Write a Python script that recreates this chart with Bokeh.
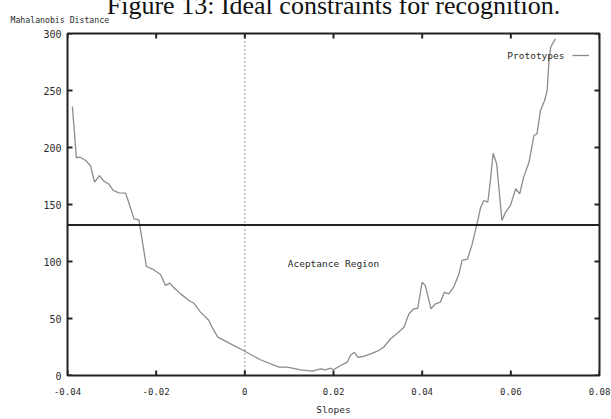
from bokeh.plotting import figure
from bokeh.models import (Label, Span, LinearAxis, FixedTicker, Legend, LegendItem,
                          Range1d, Title)
from bokeh.embed import file_html
from bokeh.resources import INLINE

# Mahalanobis distance of the prototypes as a function of slope
slopes = [-0.0389, -0.0380, -0.0371, -0.0359, -0.0348, -0.0339, -0.0328, -0.0318,
          -0.0307, -0.0297, -0.0284, -0.0269, -0.0262, -0.0250, -0.0239, -0.0235,
          -0.0222, -0.0209, -0.0190, -0.0179, -0.0169, -0.0160, -0.0145, -0.0126,
          -0.0115, -0.0100, -0.0081, -0.0074, -0.0061, -0.0032, 0.0000, 0.0035,
          0.0077, 0.0096, 0.0126, 0.0152, 0.0171, 0.0182, 0.0193, 0.0200,
          0.0216, 0.0231, 0.0238, 0.0247, 0.0255, 0.0268, 0.0284, 0.0299,
          0.0313, 0.0329, 0.0344, 0.0359, 0.0370, 0.0381, 0.0390, 0.0400,
          0.0407, 0.0420, 0.0430, 0.0441, 0.0450, 0.0460, 0.0471, 0.0483,
          0.0490, 0.0502, 0.0513, 0.0520, 0.0526, 0.0532, 0.0539, 0.0548,
          0.0554, 0.0560, 0.0568, 0.0580, 0.0588, 0.0599, 0.0611, 0.0620,
          0.0629, 0.0641, 0.0652, 0.0659, 0.0667, 0.0676, 0.0682, 0.0686,
          0.0690, 0.0696, 0.0701]
distance = [236, 191, 191.5, 188.6, 184, 169.6, 175.4, 170.5,
            168, 162.3, 160.2, 160, 152, 137.4, 136.6, 127,
            95.6, 93.6, 88.6, 79, 81, 77, 71.6, 65.8,
            63.4, 55.6, 48.2, 42.4, 33.6, 27.8, 21.3, 13.8,
            7.3, 7.3, 5, 3.8, 5.8, 5, 6.4, 5,
            8.8, 11.7, 17.5, 20.5, 16, 16.7, 19, 21.3,
            24.8, 32.2, 37, 42.4, 54, 58.5, 59, 81.9,
            79, 58.5, 62.9, 64.3, 73, 71.6, 77.5, 89,
            101, 102, 115.5, 127, 137, 147.6, 153.5, 152,
            171, 195, 185.7, 136, 143.3, 149, 163.8, 159.3,
            174, 187, 210.5, 212, 232.5, 241, 250, 276,
            288, 292.4, 295.3]

threshold = 132  # upper bound of the acceptance region

x_ticks = [-0.04, -0.02, 0, 0.02, 0.04, 0.06, 0.08]
x_tick_labels = ["-0.04", "-0.02", "0", "0.02", "0.04", "0.06", "0.08"]
y_ticks = [0, 50, 100, 150, 200, 250, 300]
y_tick_labels = ["0", "50", "100", "150", "200", "250", "300"]

MONO = "DejaVu Sans Mono"
INK = "#2a2a2a"
FRAME = "#222222"

FRAME_W, FRAME_H = 532, 342
SHIFT = 14  # canvas rows hidden above the page edge

p = figure(frame_width=FRAME_W, frame_height=FRAME_H, output_backend="svg",
           toolbar_location=None, x_axis_location=None, y_axis_location=None,
           min_border_left=67, min_border_right=12, min_border_top=33 + SHIFT,
           min_border_bottom=44, margin=(-SHIFT, 0, 0, 0))
p.title.visible = False
p.x_range = Range1d(x_ticks[0], x_ticks[-1])
p.y_range = Range1d(y_ticks[0], y_ticks[-1])
p.grid.visible = False
p.background_fill_color = "white"
p.border_fill_color = "white"
p.outline_line_color = FRAME
p.outline_line_width = 2


def make_axis(ticks, labels, size, standoff):
    ax = LinearAxis(ticker=FixedTicker(ticks=ticks))
    ax.major_label_overrides = {t: l for t, l in zip(ticks, labels)}
    ax.axis_line_color = None
    ax.major_tick_line_color = None
    ax.major_tick_in = 0
    ax.major_tick_out = 0
    ax.minor_tick_line_color = None
    ax.major_label_text_font = MONO
    ax.major_label_text_font_size = size
    ax.major_label_text_color = INK
    ax.major_label_standoff = standoff
    return ax


p.add_layout(make_axis(x_ticks, x_tick_labels, "9px", 12), "below")
p.add_layout(make_axis(y_ticks, y_tick_labels, "10px", 6), "left")

# inward tick marks (5 px long) on all four sides of the frame
dx = 5 * (x_ticks[-1] - x_ticks[0]) / FRAME_W
dy = 5 * (y_ticks[-1] - y_ticks[0]) / FRAME_H
y_lo, y_hi = y_ticks[0], y_ticks[-1]
x_lo, x_hi = x_ticks[0], x_ticks[-1]
seg = dict(line_color=FRAME, line_width=2)
p.segment(x0=x_ticks, y0=[y_lo] * len(x_ticks), x1=x_ticks, y1=[y_lo + dy] * len(x_ticks), **seg)
p.segment(x0=x_ticks, y0=[y_hi] * len(x_ticks), x1=x_ticks, y1=[y_hi - dy] * len(x_ticks), **seg)
p.segment(x0=[x_lo] * len(y_ticks), y0=y_ticks, x1=[x_lo + dx] * len(y_ticks), y1=y_ticks, **seg)
p.segment(x0=[x_hi] * len(y_ticks), y0=y_ticks, x1=[x_hi - dx] * len(y_ticks), y1=y_ticks, **seg)

# acceptance threshold and the zero-slope reference
p.add_layout(Span(location=threshold, dimension="width", line_color=FRAME,
                  line_width=2))
p.add_layout(Span(location=0, dimension="height", line_color="#333333",
                  line_width=1, line_dash="1 3"))

curve = p.line(slopes, distance, line_color="#8c8c8c", line_width=1.3)

legend = Legend(items=[LegendItem(label="", renderers=[curve])],
                location=(505, 315), glyph_width=17, glyph_height=10,
                padding=0, margin=0, spacing=0, label_standoff=0,
                label_width=0, label_height=0, border_line_color=None,
                background_fill_alpha=0, label_text_font_size="1px")
p.add_layout(legend, "center")

p.add_layout(Label(x=0.0721, y=280.7, text="Prototypes",
                   text_font=MONO, text_font_size="9.5px", text_color=INK,
                   text_align="right", text_baseline="middle"))
p.add_layout(Label(x=0.02, y=98.5, text="Aceptance Region", text_font=MONO,
                   text_font_size="9.5px", text_color=INK, text_align="center",
                   text_baseline="middle"))

# texts around the frame
p.add_layout(Title(text="Slopes", align="center", offset=-15, text_font=MONO,
                   text_font_size="9.5px", text_color=INK,
                   text_font_style="normal", standoff=9), "below")
p.add_layout(Title(text="Mahalanobis Distance", align="left", offset=-57,
                   text_font=MONO, text_font_size="8.2px", text_color=INK,
                   text_font_style="normal", standoff=17), "above")
p.add_layout(Title(text="Figure 13: Ideal constraints for recognition.",
                   align="center", offset=-2, text_font="Liberation Serif",
                   text_font_size="26px", text_color="#111111",
                   text_font_style="normal", standoff=-31), "above")

open("out.html", "w").write(file_html(p, INLINE))
